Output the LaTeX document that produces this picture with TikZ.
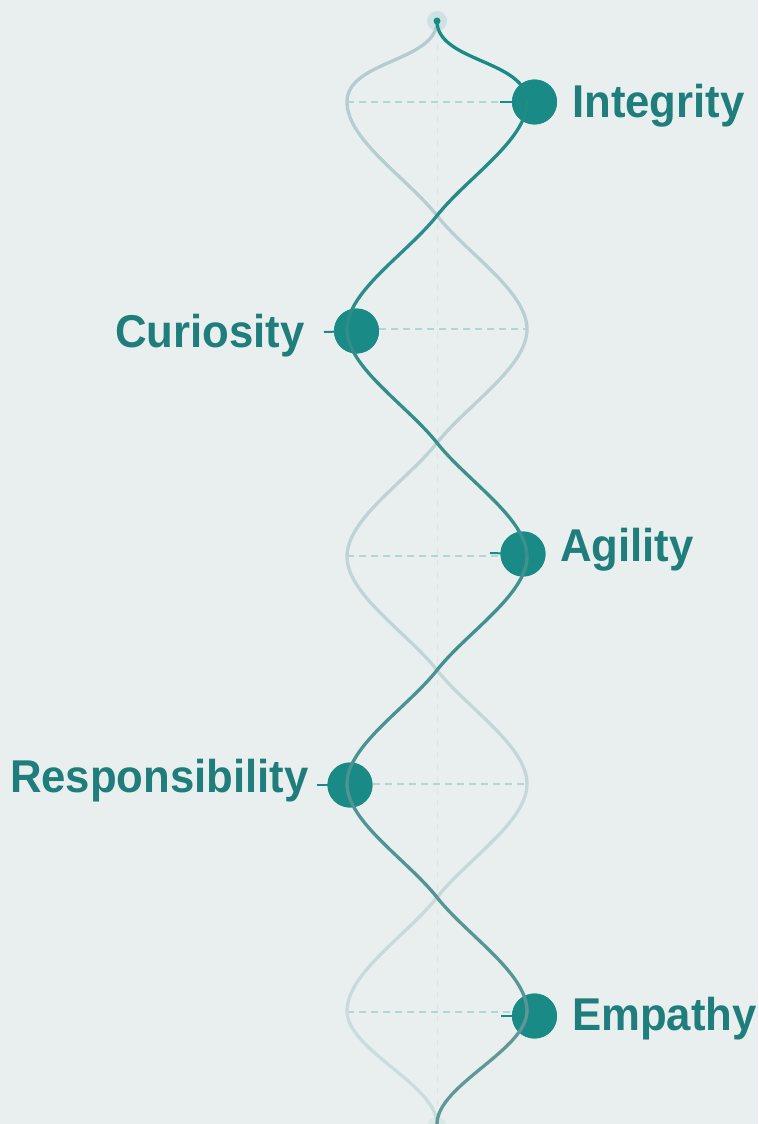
\documentclass[tikz,border=0pt]{standalone}
\usepackage{fontspec}
\setmainfont{Liberation Sans}[FakeStretch=0.95]
\definecolor{bgc}{HTML}{E9EFEF}
\definecolor{dotc}{HTML}{1A8A86}
\definecolor{txtc}{HTML}{1F7E7C}
\definecolor{dA}{HTML}{1A8A85}
\definecolor{dB}{HTML}{609797}
\definecolor{lA}{HTML}{B4CCCF}
\definecolor{lB}{HTML}{CADCDD}
\definecolor{dashc}{HTML}{B3D5D5}
\definecolor{axisc}{HTML}{DDE6E6}
\definecolor{haloc}{HTML}{CFE1E2}
\tikzset{
  valdot/.style={circle,fill=dotc,draw=none,minimum size=45pt,inner sep=0pt},
  vallabel/.style={text=txtc,font=\fontsize{46}{50}\selectfont\bfseries,inner sep=0pt},
  tickline/.style={draw=dotc,line width=2pt},
  guideline/.style={draw=dashc,line width=1.5pt,dash pattern=on 7pt off 5pt},
  strand/.style={line width=3.3pt,line cap=round},
}
% helix strand: #1 sign (+1 dark, -1 light), #2 top colour, #3 bottom colour
\newcommand\helixstrand[3]{%
  \draw[strand,#2] (437,21) .. controls (437,62) and ({437+#1*90},60) .. ({437+#1*90},102);
  \foreach \k in {0,...,7}{
    \pgfmathsetmacro\ya{102+\k*113.625}
    \pgfmathsetmacro\yb{102+(\k+1)*113.625}
    \pgfmathsetmacro\xa{437+#1*90*cos(90*\k)}
    \pgfmathsetmacro\xb{437+#1*90*cos(90*(\k+1))}
    \pgfmathsetmacro\isodd{mod(\k,2)}
    \pgfmathsetmacro\cax{\xa+(\xb-\xa)/3*\isodd}
    \pgfmathsetmacro\cbx{\xb+(\xa-\xb)/3*(1-\isodd)}
    \pgfmathsetmacro\cay{\ya+37.875}
    \pgfmathsetmacro\cby{\yb-37.875}
    \pgfmathsetmacro\p{100-(\k+1)*100/9}
    \draw[strand,color=#2!\p!#3] (\xa,\ya) .. controls (\cax,\cay) and (\cbx,\cby) .. (\xb,\yb);
  }
  \draw[strand,#3] ({437+#1*90},1011) .. controls ({437+#1*90},1050) and (437,1085) .. (437,1124);
}
\begin{document}
\begin{tikzpicture}[x=1pt,y=-1pt]
\fill[bgc] (0,0) rectangle (758,1124);
\useasboundingbox (0,0) rectangle (758,1124);
% centre axis
\draw[axisc,line width=1pt,dash pattern=on 6pt off 6pt] (437,20) -- (437,1124);
% halos
\node[circle,fill=haloc,minimum size=20pt,inner sep=0pt] (tophalo) at (437,21) {};
\node[circle,fill=haloc!60!bgc,minimum size=20pt,inner sep=0pt] (bothalo) at (437,1127) {};
% value nodes
\node[valdot] (n1) at (534.5,102) {};
\node[valdot] (n2) at (356.5,331) {};
\node[valdot] (n3) at (523,554) {};
\node[valdot] (n4) at (350,785) {};
\node[valdot] (n5) at (534.5,1016) {};
% guide dashes
\coordinate (g1) at (347,102);
\coordinate (g2) at (527,329);
\coordinate (g3) at (347,556);
\coordinate (g4) at (527,784);
\coordinate (g5) at (347,1012);
\draw[guideline] (g1) -- (g1 -| n1.west);
\draw[guideline] (g2 -| n2.east) -- (g2);
\draw[guideline] (g3) -- (g3 -| n3.west);
\draw[guideline] (g4 -| n4.east) -- (g4);
\draw[guideline] (g5) -- (g5 -| n5.west);
% ticks
\coordinate (t1) at (500,102);
\coordinate (t2) at (324,332);
\coordinate (t3) at (490,553);
\coordinate (t4) at (317,785);
\coordinate (t5) at (501,1016);
\draw[tickline] (t1) -- (n1.center);
\draw[tickline] (t2) -- (n2.center);
\draw[tickline] (t3) -- (n3.center);
\draw[tickline] (t4) -- (n4.center);
\draw[tickline] (t5) -- (n5.center);
% redraw dots above guides and ticks
\node[valdot] at (n1) {};
\node[valdot] at (n2) {};
\node[valdot] at (n3) {};
\node[valdot] at (n4) {};
\node[valdot] at (n5) {};
% strands
\helixstrand{-1}{lA}{lB}
\helixstrand{1}{dA}{dB}
% top dot
\node[circle,fill=dA,minimum size=7pt,inner sep=0pt] (topdot) at (tophalo) {};
% labels
\node[vallabel,anchor=base west] (l1) at (572,117) {Integrity};
\node[vallabel,anchor=base east] (l2) at (305,347) {Curiosity};
\node[vallabel,anchor=base west] (l3) at (560,561) {Agility};
\node[vallabel,anchor=base east] (l4) at (309,792) {Responsibility};
\node[vallabel,anchor=base west] (l5) at (572,1030) {Empathy};
\end{tikzpicture}
\end{document}
